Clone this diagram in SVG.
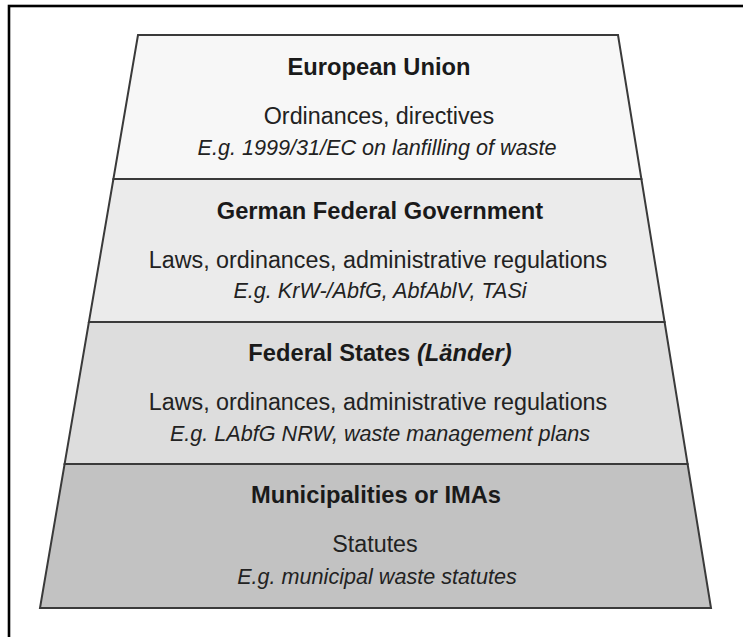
<svg xmlns="http://www.w3.org/2000/svg" width="743" height="637" viewBox="0 0 743 637">
<style>
.band{stroke:#3a3a3a;stroke-width:2;stroke-linejoin:miter}
.t{font-family:"Liberation Sans",Arial,sans-serif;fill:#222;text-anchor:middle}
.h{font-weight:bold;font-size:23.7px;fill:#1a1a1a}
.r{font-size:23.3px}
.i{font-style:italic;font-size:21.6px}
</style>
<rect x="0" y="0" width="743" height="637" fill="#fff"/>
<rect x="9" y="6" width="760" height="660" fill="none" stroke="#000" stroke-width="2.6"/>
<g id="eu">
<polygon class="band" fill="#f7f7f7" points="138,35 618,35 641.4,179 113.4,179"/>
<text class="t h" x="379" y="75">European Union</text>
<text class="t r" x="379" y="124">Ordinances, directives</text>
<text class="t i" x="377" y="155">E.g. 1999/31/EC on lanfilling of waste</text>
</g>
<g id="federal-government">
<polygon class="band" fill="#ebebeb" points="113.4,179 641.4,179 664.6,322 88.9,322"/>
<text class="t h" x="380" y="219">German Federal Government</text>
<text class="t r" x="378" y="268">Laws, ordinances, administrative regulations</text>
<text class="t i" x="380" y="298">E.g. KrW-/AbfG, AbfAblV, TASi</text>
</g>
<g id="federal-states">
<polygon class="band" fill="#dddddd" points="88.9,322 664.6,322 687.6,464 64.6,464"/>
<text class="t h" x="380" y="361">Federal States <tspan font-style="italic">(Länder)</tspan></text>
<text class="t r" x="378" y="410">Laws, ordinances, administrative regulations</text>
<text class="t i" x="380" y="441">E.g. LAbfG NRW, waste management plans</text>
</g>
<g id="municipalities">
<polygon class="band" fill="#c2c2c2" points="64.6,464 687.6,464 711,608 40,608"/>
<text class="t h" x="376" y="503">Municipalities or IMAs</text>
<text class="t r" x="375" y="552">Statutes</text>
<text class="t i" x="377" y="584" font-size="22.4px">E.g. municipal waste statutes</text>
</g>
</svg>
